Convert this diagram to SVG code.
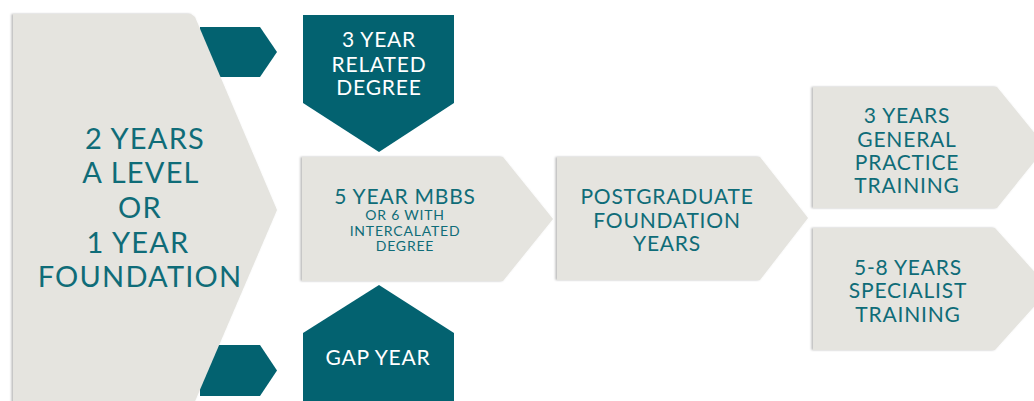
<svg xmlns="http://www.w3.org/2000/svg" width="1034" height="401" viewBox="0 0 1034 401">
  <defs>
    <filter id="sh" x="-5%" y="-5%" width="110%" height="110%">
      <feDropShadow dx="-1.5" dy="0" stdDeviation="1" flood-color="#000" flood-opacity="0.28"/>
    </filter>
  </defs>
  <style>
    .light { fill: #E5E4DF; filter: url(#sh); }
    .dark { fill: #036270; }
    .t { font-family: Lato, "Open Sans", sans-serif; font-weight: 400; text-anchor: middle; letter-spacing: 0.8px; }
    .tl { fill: #0F6C78; }
    .tw { fill: #FFFFFF; }
    .big { font-size: 29px; letter-spacing: 1.2px; }
    .mid { font-size: 21px; }
    .sm { font-size: 14px; }
  </style>
  <rect width="1034" height="401" fill="#FFFFFF"/>

  <g id="connectors">
    <polygon class="dark" points="200,27 260,27 277,52 260,77 200,77"/>
    <polygon class="dark" points="200,345 260,345 277,370.5 260,396 200,396"/>
  </g>

  <g id="node-alevel">
    <polygon class="light" points="13,14 191,14 195,17 277,210 193,406 13,406"/>
    <text class="t tl big" x="145" y="149">2 YEARS</text>
    <text class="t tl big" x="141" y="183">A LEVEL</text>
    <text class="t tl big" x="140" y="218">OR</text>
    <text class="t tl big" x="138" y="253">1 YEAR</text>
    <text class="t tl big" x="140" y="287">FOUNDATION</text>
  </g>

  <g id="node-related">
    <polygon class="dark" points="303,15 454,15 454,103 379,152 303,103"/>
    <text class="t tw mid" x="379" y="47">3 YEAR</text>
    <text class="t tw mid" x="379" y="72">RELATED</text>
    <text class="t tw mid" x="379" y="95">DEGREE</text>
  </g>

  <g id="node-gap">
    <polygon class="dark" points="379,285 454,333 454,410 303,410 303,333"/>
    <text class="t tw mid" x="378" y="365">GAP YEAR</text>
  </g>

  <g id="node-mbbs">
    <polygon class="light" points="302,157 503,157 553,219 503,281 302,281"/>
    <text class="t tl mid" x="405" y="204">5 YEAR MBBS</text>
    <text class="t tl sm" x="405" y="220">OR 6 WITH</text>
    <text class="t tl sm" x="405" y="236">INTERCALATED</text>
    <text class="t tl sm" x="405" y="251">DEGREE</text>
  </g>

  <g id="node-postgrad">
    <polygon class="light" points="557,157 760,157 808,218 760,280 557,280"/>
    <text class="t tl mid" x="667" y="204">POSTGRADUATE</text>
    <text class="t tl mid" x="667" y="228">FOUNDATION</text>
    <text class="t tl mid" x="667" y="251">YEARS</text>
  </g>

  <g id="node-gp">
    <polygon class="light" points="813,87 997,87 1046,147 997,208 813,208"/>
    <text class="t tl mid" x="907" y="123">3 YEARS</text>
    <text class="t tl mid" x="907" y="147">GENERAL</text>
    <text class="t tl mid" x="907" y="170">PRACTICE</text>
    <text class="t tl mid" x="907" y="193">TRAINING</text>
  </g>

  <g id="node-specialist">
    <polygon class="light" points="813,228 995,228 1050,289 995,350 813,350"/>
    <text class="t tl mid" x="908" y="275">5-8 YEARS</text>
    <text class="t tl mid" x="908" y="298">SPECIALIST</text>
    <text class="t tl mid" x="908" y="322">TRAINING</text>
  </g>
</svg>
